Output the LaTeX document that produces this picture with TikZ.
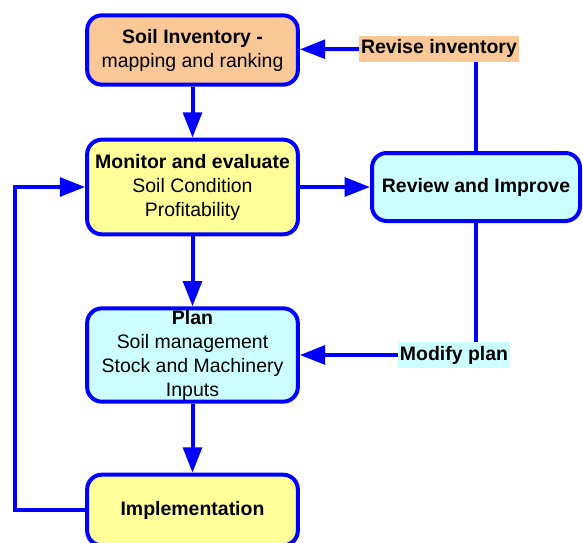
\documentclass[tikz,border=0pt]{standalone}
\usepackage{fontspec}
\setmainfont{Liberation Sans}
\usetikzlibrary{arrows.meta}
\definecolor{flowblue}{RGB}{0,0,255}
\definecolor{peach}{RGB}{250,200,150}
\definecolor{paleyellow}{RGB}{255,255,153}
\definecolor{palecyan}{RGB}{204,255,255}
\tikzset{
  stagebox/.style={draw=flowblue, line width=3pt, rounded corners=11pt,
    align=center, minimum width=158pt, inner sep=1pt,
    font=\fontsize{14.6}{18}\selectfont},
  tagbox/.style={inner xsep=1.5pt, inner ysep=0pt, minimum height=19.5pt,
    font=\fontsize{14.6}{18}\selectfont\bfseries},
  flow/.style={draw=flowblue, line width=3pt,
    -{Triangle[length=19pt,width=14pt]}},
  link/.style={draw=flowblue, line width=3pt}
}
\begin{document}
\begin{tikzpicture}[x=0.75pt,y=-0.75pt]
      \useasboundingbox (0,0) rectangle (583,543);
      \node[stagebox, fill=peach, minimum height=52pt] (inv) at (192.5,50)
        {\textbf{Soil Inventory -}\\mapping and ranking};
      \node[tagbox, fill=peach] (revise) at (439,48.5) {Revise inventory};
      \node[stagebox, fill=paleyellow, minimum height=71pt] (mon) at (192.5,187)
        {\textbf{Monitor and evaluate}\\Soil Condition\\Profitability};
      \node[stagebox, fill=palecyan, minimum width=156pt, minimum height=51pt] (rev) at (476,187)
        {\textbf{Review and Improve}};
      \node[stagebox, fill=palecyan, minimum height=70pt] (plan) at (192.5,355)
        {\textbf{Plan}\\Soil management\\Stock and Machinery\\Inputs};
      \node[tagbox, fill=palecyan] (modify) at (454,355) {Modify plan};
      \node[stagebox, fill=paleyellow, minimum height=53pt] (impl) at (192.5,510)
        {\textbf{Implementation}};
      \coordinate (back) at (15,510);
      \begin{scope}
        \draw[flow] (inv) to (mon);
        \draw[flow] (mon) to (plan);
        \draw[flow] (plan) to (impl);
        \draw[flow] (mon) to (rev);
        \draw[flow] (revise) to (inv);
        \draw[flow] (modify) to (plan);
        \draw[link] (rev.north) to (rev.north |- revise.south);
        \draw[link] (rev.south) to (rev.south |- modify.north);
        \draw[flow] (impl.west) -- (back) |- (mon.west);
      \end{scope}
    \end{tikzpicture}
\end{document}
